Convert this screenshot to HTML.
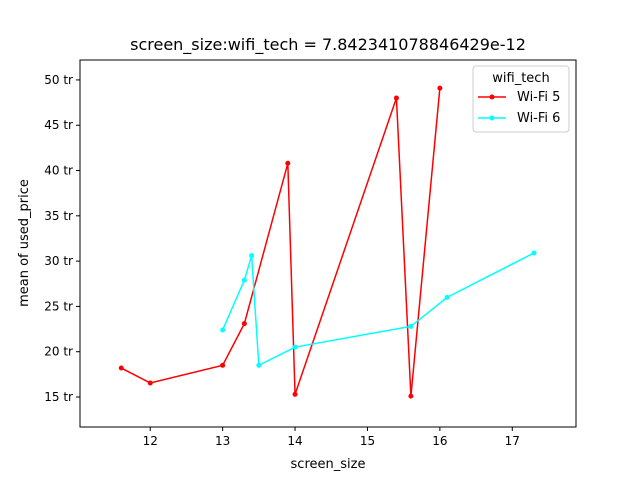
<!DOCTYPE html>
<html><head><meta charset="utf-8"><style>
body{margin:0;background:#fff;font-family:"Liberation Sans","DejaVu Sans",sans-serif}
svg text{font-family:"DejaVu Sans","Liberation Sans",sans-serif}
</style></head><body>
<svg id="chart" width="640" height="480"></svg>
<script>
const xTicks=[12,13,14,15,16,17];
const yTicks=[15,20,25,30,35,40,45,50];
const wifi5X=[11.6,12,13,13.3,13.9,14,15.4,15.6,16];
const wifi5Y=[18.2,16.55,18.5,23.1,40.8,15.3,48.0,15.1,49.1];
const wifi6X=[13,13.3,13.4,13.5,14,15.6,16.1,17.3];
const wifi6Y=[22.4,27.9,30.6,18.5,20.5,22.8,26.0,30.9];
const L=80,R=576,T=60,B=427;
const xMin=11.03,xMax=17.88,yMin=11.69,yMax=52.2;
const sx=v=>L+(v-xMin)/(xMax-xMin)*(R-L);
const sy=v=>B-(v-yMin)/(yMax-yMin)*(B-T);
const svg=document.getElementById('chart');
const NS='http://www.w3.org/2000/svg';
function mk(t,a,p){const e=document.createElementNS(NS,t);for(const k in a)e.setAttribute(k,a[k]);(p||svg).appendChild(e);return e;}
const title=mk('text',{x:328,y:50,'text-anchor':'middle','font-size':16});
title.textContent='screen_size:wifi_tech = 7.842341078846429e-12';


xTicks.forEach(v=>{
  const g=mk('g',{});
  
  
  mk('line',{x1:sx(v),x2:sx(v),y1:B,y2:B+4,stroke:'#000'},g);
  const t=mk('text',{x:sx(v),y:B+18,'text-anchor':'middle','font-size':12},g);t.textContent=v;
});
yTicks.forEach(v=>{
  const g=mk('g',{});
  
  
  mk('line',{x1:L-4,x2:L,y1:sy(v),y2:sy(v),stroke:'#000'},g);
  const t=mk('text',{x:L-7,y:sy(v)+4,'text-anchor':'end','font-size':12},g);t.textContent=v+' tr';
});
const xl=mk('text',{x:328,y:468,'text-anchor':'middle','font-size':13});xl.textContent='screen_size';


const yl=mk('text',{x:0,y:0,'text-anchor':'middle','font-size':13,transform:'translate(28,243) rotate(-90)'});yl.textContent='mean of used_price';


function series(xs,ys,c,name){
  const g=mk('g',{});
  
  
  mk('polyline',{points:xs.map((x,i)=>sx(x)+','+sy(ys[i])).join(' '),fill:'none',stroke:c,'stroke-width':1.5},g);
  xs.forEach((x,i)=>{const p=mk('circle',{cx:sx(x),cy:sy(ys[i]),r:2.5,fill:c},g);
    
    });
}
series(wifi5X,wifi5Y,'#ff0000','series-wifi-5');
series(wifi6X,wifi6Y,'#00ffff','series-wifi-6');
const fr=mk('rect',{x:L,y:T,width:R-L,height:B-T,fill:'none',stroke:'#000','stroke-width':1});


const lg=mk('g',{});


mk('rect',{x:473,y:66,width:96,height:66,rx:3,fill:'#fff',stroke:'#ccc'},lg);
const lt=mk('text',{x:521,y:82,'text-anchor':'middle','font-size':13},lg);lt.textContent='wifi_tech';
[['Wi-Fi 5','#ff0000',97],['Wi-Fi 6','#00ffff',118]].forEach(([n,c,y])=>{
  const e=mk('g',{},lg);
  
  
  mk('line',{x1:478,x2:506,y1:y,y2:y,stroke:c,'stroke-width':1.5},e);
  mk('circle',{cx:492,cy:y,r:2.5,fill:c},e);
  const t=mk('text',{x:517,y:y+4,'font-size':13},e);t.textContent=n;
});
</script>
</body></html>
